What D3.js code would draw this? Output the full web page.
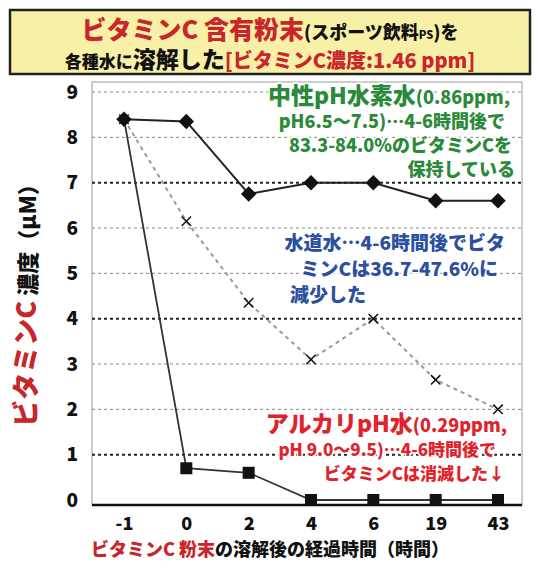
<!DOCTYPE html>
<html><head><meta charset="utf-8">
<script src="https://cdn.jsdelivr.net/npm/d3@7"></script>
<style>body{margin:0;background:#fff}text{font-family:"Noto Sans CJK JP",sans-serif;font-weight:900}</style>
</head><body><svg width="538" height="568"></svg>
<script>
var categories = ["-1","0","2","4","6","19","43"];
var neutral = [8.4,8.35,6.75,7.0,7.0,6.6,6.6];
var tap = [8.4,6.15,4.35,3.1,4.0,2.65,2.0];
var alkaline = [8.4,0.7,0.6,0,0,0,0];
var yTicks = [0,1,2,3,4,5,6,7,8,9];

var svg = d3.select("svg");
var x = d3.scalePoint().domain(categories).range([124,498]);
var y = d3.scaleLinear().domain([0,9]).range([500,92]);

// title box
svg.append("rect").attr("x",10).attr("y",10).attr("width",520).attr("height",64)
	.attr("fill","#f8f0a6").attr("stroke","#222").attr("stroke-width",2.5);
var t1 = svg.append("text").attr("x",270).attr("y",39).attr("text-anchor","middle");
t1.append("tspan").attr("fill","#c8262a").attr("font-size",25).text("ビタミンC 含有粉末");
t1.append("tspan").attr("fill","#111").attr("font-size",18).text("(スポーツ飲料");
t1.append("tspan").attr("fill","#111").attr("font-size",11).text("PS");
t1.append("tspan").attr("fill","#111").attr("font-size",18).text(")を");
var t2 = svg.append("text").attr("x",270).attr("y",68).attr("text-anchor","middle");
t2.append("tspan").attr("fill","#111").attr("font-size",17).text("各種水に");
t2.append("tspan").attr("fill","#111").attr("font-size",23).text("溶解した");
t2.append("tspan").attr("fill","#c8262a").attr("font-size",20).text("[ビタミンC濃度:1.46 ppm]");

// frame + grid
svg.append("rect").attr("x",92).attr("y",82).attr("width",430).attr("height",423)
	.attr("fill","none").attr("stroke","#999");
svg.selectAll(".grid").data(yTicks.filter(function(d){return d>0;})).enter().append("line")
	.attr("x1",92).attr("x2",522).attr("y1",function(d){return y(d);}).attr("y2",function(d){return y(d);})
	.attr("stroke",function(d){return d%3==1?"#222":"#888";})
	.attr("stroke-width",function(d){return d%3==1?2:1;})
	.attr("stroke-dasharray","3,3");

var yAxis = svg.append("g").attr("transform","translate(92,0)").call(d3.axisLeft(y).tickValues(yTicks).tickSize(0).tickPadding(14));
yAxis.select(".domain").remove();
yAxis.selectAll("text").attr("font-size",19).attr("font-family","Liberation Sans,Arial").attr("font-weight","bold").attr("fill","#111");
var xAxis = svg.append("g").attr("transform","translate(0,505)").call(d3.axisBottom(x).tickSize(0).tickPadding(12));
xAxis.select(".domain").attr("stroke","#111").attr("stroke-width",2.5).attr("d","M92,0H522");
xAxis.selectAll("text").attr("font-size",18).attr("font-family","Liberation Sans,Arial").attr("font-weight","bold").attr("fill","#111");

var line = d3.line().x(function(d,i){return x(categories[i]);}).y(function(d){return y(d);});
svg.append("path").datum(tap).attr("d",line).attr("fill","none").attr("stroke","#999").attr("stroke-width",2).attr("stroke-dasharray","4,4");
svg.append("path").datum(neutral).attr("d",line).attr("fill","none").attr("stroke","#222").attr("stroke-width",2);
svg.append("path").datum(alkaline).attr("d",line).attr("fill","none").attr("stroke","#333").attr("stroke-width",1.8);

svg.selectAll(".cross").data(tap).enter().append("path")
	.attr("transform",function(d,i){return "translate("+x(categories[i])+","+y(d)+")";})
	.attr("d",d3.symbol(d3.symbolX,60)).attr("fill","none").attr("stroke","#111").attr("stroke-width",1.5);
svg.selectAll(".sq").data(alkaline.slice(1)).enter().append("rect")
	.attr("x",function(d,i){return x(categories[i+1])-6;}).attr("y",function(d){return y(d)-6;})
	.attr("width",12).attr("height",12).attr("fill","#111");
svg.selectAll(".dia").data(neutral).enter().append("path")
	.attr("transform",function(d,i){return "translate("+x(categories[i])+","+y(d)+") rotate(45)";})
	.attr("d",d3.symbol(d3.symbolSquare,120)).attr("fill","#111");

// annotations
function ann(lines, color, anchorX, y0, dy){
	lines.forEach(function(l,i){
		var t = svg.append("text").attr("x",anchorX[i]).attr("y",y0+i*dy).attr("fill",color).attr("text-anchor","end")
			.attr("stroke","#fff").attr("stroke-width",3).attr("paint-order","stroke");
		l.forEach(function(p){t.append("tspan").attr("font-size",p[1]).text(p[0]);});
	});
}
ann([[["中性pH水素水",23],["(0.86ppm,",18]],[["pH6.5〜7.5)…4-6時間後で",18]],[["83.3-84.0%のビタミンCを",18]],[["保持している",18]]],
	"#2a8a3a",[510,505,512,515],104,24);
ann([[["水道水…4-6時間後でビタ",19]],[["ミンCは36.7-47.6%に",19]],[["減少した",19]]],
	"#2c4fa0",[505,498,366],250,26);
ann([[["アルカリpH水",23],["(0.29ppm,",18]],[["pH 9.0〜9.5)…4-6時間後で",17]],[["ビタミンCは消滅した↓",17]]],
	"#e0232a",[507,496,505],432,24);

// axis titles
var yl = svg.append("text").attr("transform","translate(36,300) rotate(-90)").attr("text-anchor","middle");
yl.append("tspan").attr("fill","#c8262a").attr("font-size",27).text("ビタミンC");
yl.append("tspan").attr("fill","#111").attr("font-size",22).text(" 濃度（μM）");
var xl = svg.append("text").attr("x",270).attr("y",556).attr("text-anchor","middle").attr("font-size",18);
xl.append("tspan").attr("fill","#c8262a").text("ビタミンC 粉末");
xl.append("tspan").attr("fill","#111").text("の溶解後の経過時間（時間）");
</script></body></html>
